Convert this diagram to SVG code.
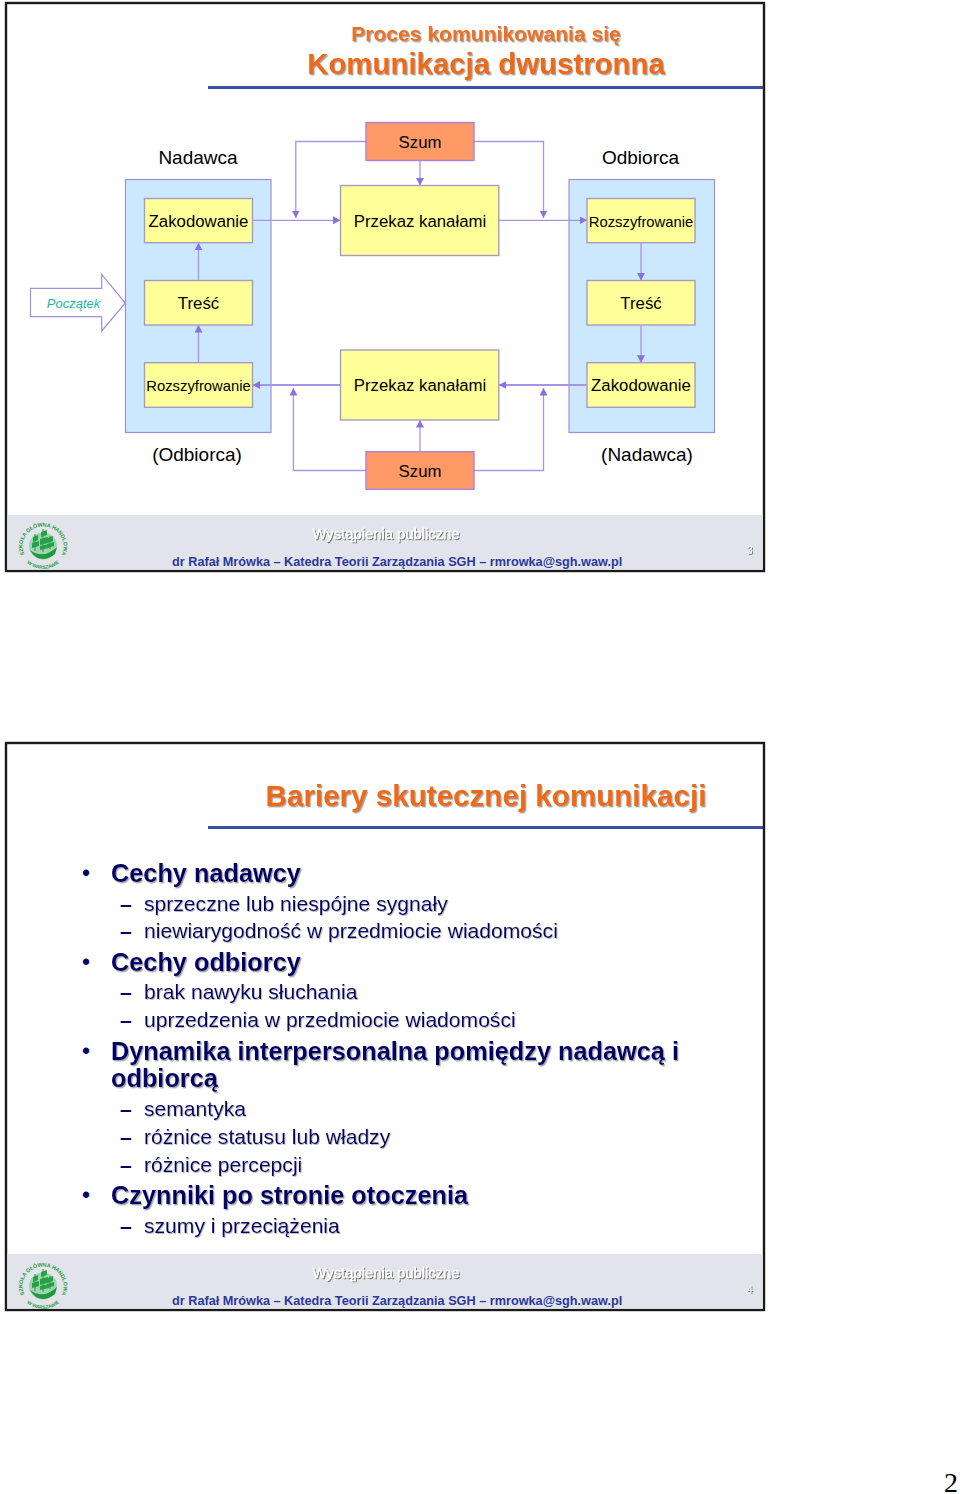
<svg xmlns="http://www.w3.org/2000/svg" width="960" height="1494" viewBox="0 0 960 1494">
<style>
text{font-family:"Liberation Sans",Arial,sans-serif}
.c{text-anchor:middle}
.frame{fill:#fff;stroke:#1a1a1a;stroke-width:2.4}
.band{fill:#e3e3eb}
.rule{stroke:#3c51a3;stroke-width:3;fill:none}
.t1{font-weight:bold;font-size:21.1px;fill:#f0701a;filter:url(#sh)}
.t2{font-weight:bold;font-size:29.4px;fill:#ee6a12;filter:url(#sh)}
.t3{font-weight:bold;font-size:29.6px;fill:#ee6a12;filter:url(#sh)}
.panel{fill:#cce8ff;stroke:#a08fdc;stroke-width:1.2}
.box{fill:#ffff99;stroke:#a79bc4;stroke-width:1.4}
.noise{fill:#ff9966;stroke:#a884d8;stroke-width:1.4}
.n{font-size:16.8px;fill:#000}
.nr{font-size:14.8px;fill:#000}
.lab{font-size:19px;fill:#000}
.con{fill:none;stroke:#a893e4;stroke-width:1.3}
.thick{stroke-width:1.8}
.head{fill:#8a70e0}
.start{fill:#fff;stroke:#a08fdc;stroke-width:1.2}
.st{font-size:13px;font-style:italic;fill:#1db8a0}
.wy{font-size:14.8px;fill:#fff;stroke:#fff;stroke-width:.3;filter:url(#shw)}
.au{font-size:12.7px;font-weight:bold;fill:#2a3a9a}
.pg{font-size:10px;fill:#f4f4f8;filter:url(#shw)}
.b0{font-size:23px;fill:#000066}
.b1{font-size:25.3px;font-weight:bold;fill:#000066;filter:url(#sh)}
.b2{font-size:21.1px;fill:#000066;filter:url(#sh2)}
.d{font-size:21.1px;font-weight:bold;fill:#000066}
.ring{font-size:5.4px;font-weight:bold;fill:#2b9c48}
.ring2{font-size:4.8px;font-weight:bold;fill:#2b9c48}
</style>
<defs>
<filter id="sh" x="-5%" y="-20%" width="110%" height="150%"><feDropShadow dx="1.2" dy="1.4" stdDeviation="0.7" flood-color="#888" flood-opacity="0.75"/></filter>
<filter id="sh2" x="-5%" y="-20%" width="110%" height="150%"><feDropShadow dx="0.8" dy="1" stdDeviation="0.6" flood-color="#888" flood-opacity="0.6"/></filter>
<filter id="shw" x="-5%" y="-20%" width="110%" height="150%"><feDropShadow dx="1" dy="1" stdDeviation="0.5" flood-color="#666" flood-opacity="0.9"/></filter>
<marker id="ah" markerUnits="userSpaceOnUse" markerWidth="9" markerHeight="9" refX="7.5" refY="4" orient="auto"><path class="head" d="M0 0L7.5 4L0 8z"/></marker>
<path id="arcTop" d="M24.5 554.5A20.5 19.5 0 1 1 61.5 554.5"/>
<path id="arcBot" d="M27 563A24 23 0 0 0 59 563"/>
<path id="arcTop2" d="M24.5 1294.5A20.5 19.5 0 1 1 61.5 1294.5"/>
<path id="arcBot2" d="M27 1303A24 23 0 0 0 59 1303"/>
<g id="ship">
<ellipse cx="43" cy="546" rx="14" ry="13.5" fill="#6cc585" opacity=".55"/>
<path d="M30 550q13 10 27-3l-2 7q-6 5-12 5-8 0-13-9z" fill="#1f9a3c"/>
<path d="M35 551V534M43 552V529M50 549V536" stroke="#1f9a3c" stroke-width="1" fill="none"/>
<path d="M33 537l5-2 0 5-5 2zM32 543l7-2 0 5-7 2zM41 532l6-2 0 5-6 2zM40 539l8-2 0 6-8 2zM40 546l9-2 0 4-9 2zM48 538l5-2 0 5-5 2zM47 544l7-2 0 4-7 2z" fill="#25a244"/>
</g>
</defs>
<rect width="960" height="1494" fill="#fff"/>

<g id="slide-3-frame">
<rect class="frame" x="6" y="3" width="758" height="568"/>
<rect class="band" x="7.5" y="515" width="755" height="54.5"/>
<path class="rule" d="M208 87.5H763"/>
</g>
<g id="slide-3-title">
<text class="t1 c" x="486" y="41">Proces komunikowania się</text>
<text class="t2 c" x="486" y="74">Komunikacja dwustronna</text>
</g>

<g id="panel-left"><rect class="panel" x="125.5" y="179.5" width="145.5" height="253"/></g>
<g id="panel-right"><rect class="panel" x="569" y="179.5" width="145.5" height="253"/></g>

<g id="connectors">
<path class="con" marker-end="url(#ah)" d="M366 141.5H295.8V218"/>
<path class="con" marker-end="url(#ah)" d="M474 141.5H543.5V218"/>
<path class="con" marker-end="url(#ah)" d="M420 160.5V185.5"/>
<path class="con" marker-end="url(#ah)" d="M252.5 220.3H340.5"/>
<path class="con" marker-end="url(#ah)" d="M498.8 220.3H587"/>
<path class="con" marker-end="url(#ah)" d="M198.5 280.5V242.7"/>
<path class="con" marker-end="url(#ah)" d="M198.5 362.7V325"/>
<path class="con" marker-end="url(#ah)" d="M641 242.7V280.5"/>
<path class="con" marker-end="url(#ah)" d="M641 325V362.7"/>
<path class="con thick" marker-end="url(#ah)" d="M340.5 385H252.5"/>
<path class="con thick" marker-end="url(#ah)" d="M587 385H498.8"/>
<path class="con" marker-end="url(#ah)" d="M366 470.5H293.4V388"/>
<path class="con" marker-end="url(#ah)" d="M474 470.5H543.5V388"/>
<path class="con" marker-end="url(#ah)" d="M420 451.7V420"/>
</g>

<g id="szum-top"><rect class="noise" x="366" y="122.5" width="108" height="38"/><text class="n c" x="420" y="148">Szum</text></g>
<g id="przekaz-top"><rect class="box" x="340.5" y="185.5" width="158.3" height="70"/><text class="n c" x="420" y="227">Przekaz kanałami</text></g>
<g id="zakodowanie-left"><rect class="box" x="144.5" y="198.5" width="108" height="44.2"/><text class="n c" x="198.5" y="226.5">Zakodowanie</text></g>
<g id="tresc-left"><rect class="box" x="144.5" y="280.5" width="108" height="44.5"/><text class="n c" x="198.5" y="309">Treść</text></g>
<g id="rozszyfrowanie-left"><rect class="box" x="144.5" y="362.7" width="108" height="44.6"/><text class="nr c" x="198.5" y="391">Rozszyfrowanie</text></g>
<g id="rozszyfrowanie-right"><rect class="box" x="587" y="198.5" width="108" height="44.2"/><text class="nr c" x="641" y="226.5">Rozszyfrowanie</text></g>
<g id="tresc-right"><rect class="box" x="587" y="280.5" width="108" height="44.5"/><text class="n c" x="641" y="309">Treść</text></g>
<g id="zakodowanie-right"><rect class="box" x="587" y="362.7" width="108" height="44.6"/><text class="n c" x="641" y="391">Zakodowanie</text></g>
<g id="przekaz-bottom"><rect class="box" x="340.5" y="350" width="158.3" height="70"/><text class="n c" x="420" y="391">Przekaz kanałami</text></g>
<g id="szum-bottom"><rect class="noise" x="366" y="451.7" width="108" height="37.6"/><text class="n c" x="420" y="477">Szum</text></g>
<g id="poczatek"><path class="start" d="M30.5 288.3H101.7V274.3L125.3 303L101.7 331V316.7H30.5z"/><text class="st c" x="73.5" y="308">Początek</text></g>
<g id="labels">
<text class="lab c" x="198" y="164">Nadawca</text>
<text class="lab c" x="640.5" y="164">Odbiorca</text>
<text class="lab c" x="197" y="461">(Odbiorca)</text>
<text class="lab c" x="647" y="461">(Nadawca)</text>
</g>

<g id="slide-3-footer">
<use href="#ship"/>
<text class="ring"><textPath href="#arcTop" textLength="80" lengthAdjust="spacing">SZKOŁA GŁÓWNA HANDLOWA</textPath></text>
<text class="ring2"><textPath href="#arcBot" textLength="35" lengthAdjust="spacing">W WARSZAWIE</textPath></text>
<text class="wy c" x="386" y="539">Wystąpienia publiczne</text>
<text class="au" x="172" y="566">dr Rafał Mrówka – Katedra Teorii Zarządzania SGH – rmrowka@sgh.waw.pl</text>
<text class="pg" x="747" y="554">3</text>
</g>

<g id="slide-4-frame">
<rect class="frame" x="6" y="743" width="758" height="567"/>
<rect class="band" x="7.5" y="1254" width="755" height="54.5"/>
<path class="rule" d="M208 827.5H763"/>
</g>
<g id="slide-4-title"><text class="t3 c" x="486" y="806">Bariery skutecznej komunikacji</text></g>
<g id="slide-4-list">
<text class="b0" x="82" y="881">•</text><text class="b1" x="111" y="882">Cechy nadawcy</text>
<text class="d" x="120" y="910.5">–</text><text class="b2" x="144" y="910.5">sprzeczne lub niespójne sygnały</text>
<text class="d" x="120" y="938">–</text><text class="b2" x="144" y="938">niewiarygodność w przedmiocie wiadomości</text>
<text class="b0" x="82" y="969.5">•</text><text class="b1" x="111" y="971">Cechy odbiorcy</text>
<text class="d" x="120" y="998.5">–</text><text class="b2" x="144" y="998.5">brak nawyku słuchania</text>
<text class="d" x="120" y="1026.5">–</text><text class="b2" x="144" y="1026.5">uprzedzenia w przedmiocie wiadomości</text>
<text class="b0" x="82" y="1058.5">•</text><text class="b1" x="111" y="1060">Dynamika interpersonalna pomiędzy nadawcą i</text>
<text class="b1" x="111" y="1087">odbiorcą</text>
<text class="d" x="120" y="1115.5">–</text><text class="b2" x="144" y="1115.5">semantyka</text>
<text class="d" x="120" y="1143.5">–</text><text class="b2" x="144" y="1143.5">różnice statusu lub władzy</text>
<text class="d" x="120" y="1171.5">–</text><text class="b2" x="144" y="1171.5">różnice percepcji</text>
<text class="b0" x="82" y="1202.5">•</text><text class="b1" x="111" y="1204">Czynniki po stronie otoczenia</text>
<text class="d" x="120" y="1232.5">–</text><text class="b2" x="144" y="1232.5">szumy i przeciążenia</text>
</g>
<g id="slide-4-footer">
<use href="#ship" y="740"/>
<text class="ring"><textPath href="#arcTop2" textLength="80" lengthAdjust="spacing">SZKOŁA GŁÓWNA HANDLOWA</textPath></text>
<text class="ring2"><textPath href="#arcBot2" textLength="35" lengthAdjust="spacing">W WARSZAWIE</textPath></text>
<text class="wy c" x="386" y="1278">Wystąpienia publiczne</text>
<text class="au" x="172" y="1305">dr Rafał Mrówka – Katedra Teorii Zarządzania SGH – rmrowka@sgh.waw.pl</text>
<text class="pg" x="747" y="1293">4</text>
</g>
<g id="page-number"><text x="944" y="1492" style="font-family:'Liberation Serif',serif;font-size:28px;fill:#000">2</text></g>
</svg>
